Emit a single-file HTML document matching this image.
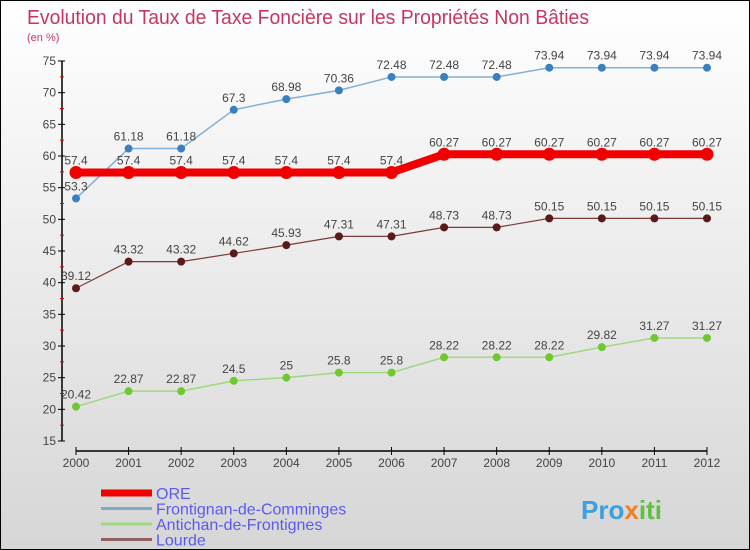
<!DOCTYPE html>
<html><head><meta charset="utf-8"><style>
body{margin:0}
#c{width:750px;height:550px;position:relative;overflow:hidden;box-sizing:border-box;border:1px solid #000;background:linear-gradient(#ffffff,#d6d6d6);font-family:"Liberation Sans",sans-serif}
svg text{font-family:"Liberation Sans",sans-serif}
</style></head><body>
<div id="c">
<svg id="s" width="750" height="550">
<text x="26" y="23" font-size="20" fill="#c8365f" textLength="562" lengthAdjust="spacingAndGlyphs">Evolution du Taux de Taxe Foncière sur les Propriétés Non Bâties</text>
<text x="26" y="40" font-size="11" fill="#c8365f">(en %)</text>
<g id="g"></g>
<text x="580" y="518" font-size="26" font-weight="bold" fill="#3aa0e0">Pro<tspan fill="#f08020">x</tspan><tspan fill="#60c040">iti</tspan></text>
</svg>
</div>
<script>
const years=[2000,2001,2002,2003,2004,2005,2006,2007,2008,2009,2010,2011,2012];
const ore=[57.4,57.4,57.4,57.4,57.4,57.4,57.4,60.27,60.27,60.27,60.27,60.27,60.27];
const frontignan=[53.3,61.18,61.18,67.3,68.98,70.36,72.48,72.48,72.48,73.94,73.94,73.94,73.94];
const antichan=[20.42,22.87,22.87,24.5,25,25.8,25.8,28.22,28.22,28.22,29.82,31.27,31.27];
const lourde=[39.12,43.32,43.32,44.62,45.93,47.31,47.31,48.73,48.73,50.15,50.15,50.15,50.15];
const yTicks=[15,20,25,30,35,40,45,50,55,60,65,70,75];
const legendNames=["ORE","Frontignan-de-Comminges","Antichan-de-Frontignes","Lourde"];
const NS="http://www.w3.org/2000/svg";
const g=document.getElementById('g');
const X=i=>75+i*(706-75)/(years.length-1);
const Y=v=>60+(75-v)*(440-60)/60;
function mk(t,a,p){const e=document.createElementNS(NS,t);for(const k in a)e.setAttribute(k,a[k]);(p||g).appendChild(e);return e;}
let ax=mk('line',{x1:61,y1:60,x2:61,y2:440,stroke:'#000','stroke-width':1.5});


yTicks.forEach((v,i)=>{
  mk('line',{x1:57,x2:64,y1:Y(v),y2:Y(v),stroke:'#000'});
  if(i<yTicks.length-1) mk('line',{x1:59,x2:63,y1:Y(v+2.5),y2:Y(v+2.5),stroke:'#e00'});
  const t=mk('text',{x:55,y:Y(v)+4,'font-size':12,'text-anchor':'end',fill:'#444'});t.textContent=v;
  
  
});
let xa=mk('line',{x1:75,y1:450,x2:706,y2:450,stroke:'#000','stroke-width':1.5});


years.forEach((yv,i)=>{
  mk('line',{x1:X(i),x2:X(i),y1:446,y2:454,stroke:'#000'});
  const t=mk('text',{x:X(i),y:466,'font-size':12,'text-anchor':'middle',fill:'#444'});t.textContent=yv;
  
  
});
function series(data,color,w,r,dot,name){
  const pl=mk('polyline',{points:data.map((v,i)=>X(i)+','+Y(v)).join(' '),fill:'none',stroke:color,'stroke-width':w});
  
  
  data.forEach((v,i)=>{
    const c=mk('circle',{cx:X(i),cy:Y(v),r:r,fill:dot});
    
    
    const t=mk('text',{x:X(i),y:Y(v)-8,'font-size':12,'text-anchor':'middle',fill:'#444'});t.textContent=v;
    
    
  });
}
series(antichan,'#a0d880',1.5,4,'#70c830','antichan');
series(lourde,'#7a3a3a',1.2,4,'#5a1a1a','lourde');
series(frontignan,'#80b0d8',1.5,4,'#3a80c0','frontignan');
series(ore,'#f00000',8,6.5,'#f00000','ore');
const lc=['#f00000','#80a8cc','#a0d880','#906060'],lw=[7,3,3,3];
legendNames.forEach((n,i)=>{
  const y=492+i*15.5;
  const l=mk('line',{x1:100,x2:151,y1:y,y2:y,stroke:lc[i],'stroke-width':lw[i]});
  
  
  const t=mk('text',{x:155,y:y+6,'font-size':16,fill:'#5a5af0'});t.textContent=n;
  
  
});
</script>
</body></html>
